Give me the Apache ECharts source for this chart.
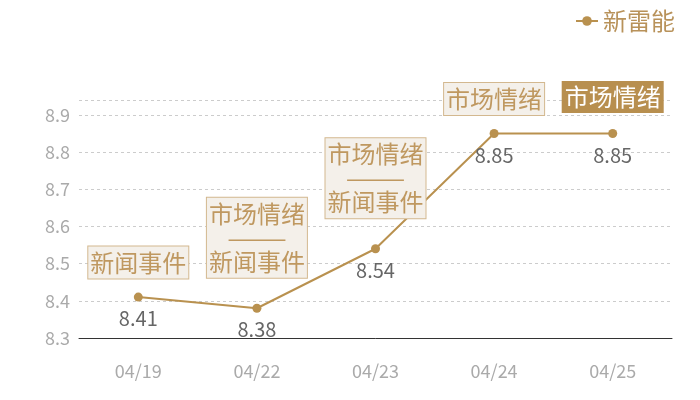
<!DOCTYPE html>
<html>
<head>
<meta charset="utf-8">
<script src="https://cdn.jsdelivr.net/npm/echarts@6/dist/echarts.min.js"></script>
<style>html,body{margin:0;padding:0;background:#fff;}#c{width:700px;height:400px;}</style>
</head>
<body>
<div id="c"></div>
<script>
const categories = ['04/19', '04/22', '04/23', '04/24', '04/25'];
const values = [8.41, 8.38, 8.54, 8.85, 8.85];
const annotations = ['新闻事件', '市场情绪\n———\n新闻事件', '市场情绪\n———\n新闻事件', '市场情绪', '市场情绪'];
const highlighted = [false, false, false, false, true];
const seriesName = '新雷能';

const FONT = '"Noto Sans CJK SC", "Noto Sans", sans-serif';
const GOLD = '#b9914f';

const annoData = values.map((v, i) => {
  const multi = annotations[i].indexOf('\n') >= 0;
  const hl = highlighted[i];
  return {
    value: v,
    label: hl ? {
      backgroundColor: '#b88f4f', color: '#ffffff', borderWidth: 0,
      padding: [4, 3, 4, 3], distance: 20
    } : {
      backgroundColor: '#f4f0ea', color: '#bf9860', borderColor: '#d3b88f', borderWidth: 1,
      padding: [4, 2, 4, 2], distance: multi ? 30 : 18
    }
  };
});

const chart = echarts.init(document.getElementById('c'));
chart.setOption({
  animation: false,
  textStyle: { fontFamily: FONT },
  legend: {
    data: [seriesName],
    right: 20, top: 4,
    itemWidth: 22, itemHeight: 12, itemGap: 10,
    textStyle: { color: '#b8925a', fontSize: 24, fontFamily: FONT }
  },
  grid: { left: 79, right: 28, top: 100, bottom: 62 },
  xAxis: {
    type: 'category',
    data: categories,
    boundaryGap: true,
    axisLine: { lineStyle: { color: '#333', width: 1 } },
    axisTick: { show: false },
    axisLabel: { color: '#aaaaaa', fontSize: 18, margin: 24, fontFamily: FONT }
  },
  yAxis: {
    type: 'value',
    min: 8.3, max: 8.94, interval: 0.1,
    axisLine: { show: false },
    axisTick: { show: false },
    axisLabel: {
      color: '#aaaaaa', fontSize: 18, margin: 9, fontFamily: FONT,
      formatter: function (v) {
        return Math.abs(v * 10 - Math.round(v * 10)) < 1e-6 ? v.toFixed(1) : '';
      }
    },
    splitLine: { lineStyle: { color: '#cccccc', type: [3, 3], width: 1 } }
  },
  series: [
    {
      name: seriesName,
      type: 'line',
      data: values,
      symbol: 'circle',
      symbolSize: 9,
      lineStyle: { color: GOLD, width: 2 },
      itemStyle: { color: GOLD },
      label: {
        show: true, position: 'bottom', distance: 7,
        color: '#666666', fontSize: 20, fontFamily: FONT,
        formatter: function (p) { return p.value.toFixed(2); }
      },
      z: 2
    },
    {
      type: 'line',
      data: annoData,
      symbol: 'circle',
      symbolSize: 1,
      itemStyle: { color: 'rgba(0,0,0,0)' },
      lineStyle: { width: 0, opacity: 0 },
      silent: true,
      label: {
        show: true, position: 'top',
        fontSize: 24, lineHeight: 24, fontFamily: FONT,
        formatter: function (p) { return annotations[p.dataIndex]; }
      },
      z: 5
    }
  ]
});
</script>
</body>
</html>
